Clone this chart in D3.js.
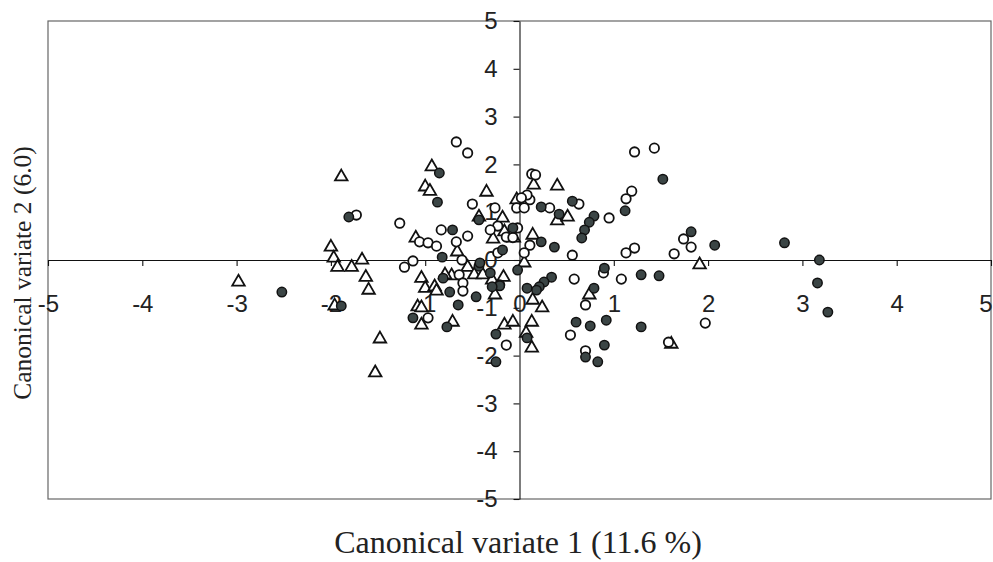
<!DOCTYPE html>
<html>
<head>
<meta charset="utf-8">
<script src="https://cdnjs.cloudflare.com/ajax/libs/d3/7.8.5/d3.min.js"></script>
<style>
  body { margin: 0; background: #fff; }
  svg { display: block; }
</style>
</head>
<body>
<script>
// canonical variate scores, [cv1, cv2]
var triangles = [
  [-1.89,1.74],[-2.00,0.27],[-1.97,0.04],[-1.93,-0.15],[-1.78,-0.15],[-1.67,0.00],[-1.63,-0.36],[-1.60,-0.63],
  [-2.98,-0.46],[-1.96,-0.96],[-1.48,-1.65],[-1.53,-2.36],[-1.10,0.46],[-1.04,-0.38],[-1.00,-0.59],[-1.08,-0.98],
  [-1.04,-1.00],[-1.04,-1.36],[-0.93,1.95],[-1.00,1.53],[-0.95,1.44],[-0.35,1.42],[-0.43,0.90],[-0.66,0.17],
  [-0.18,0.88],[-0.28,0.44],[-0.03,1.26],[-0.55,-0.15],[-0.48,-0.31],[-0.39,-0.31],[-0.16,0.59],[-0.29,-0.42],
  [-0.17,-0.36],[-0.72,-0.33],[-0.79,-0.31],[-0.90,-0.56],[-0.88,-0.65],[-0.26,-0.73],[-0.71,-1.30],[-0.16,-1.36],
  [-0.07,-1.30],[0.15,1.57],[0.40,1.55],[0.14,0.52],[0.40,0.82],[0.51,0.90],[-0.06,0.46],[0.05,-0.06],
  [0.24,-1.00],[0.14,-0.84],[0.13,-1.30],[0.07,-1.53],[0.13,-1.84],[0.74,-0.73],[1.91,-0.10],[1.61,-1.76]
];
var openCircles = [
  [-1.73,0.94],[-1.27,0.77],[-1.06,0.38],[-0.97,0.36],[-1.22,-0.15],[-1.13,-0.02],[-0.97,-1.21],[-0.67,2.47],
  [-0.55,2.24],[-0.50,1.17],[-0.26,1.09],[-0.88,0.29],[-0.83,0.63],[-0.67,0.38],[-0.55,0.50],[-0.23,0.71],
  [-0.31,0.63],[-0.14,0.48],[-0.07,0.47],[-0.23,0.15],[-0.03,1.09],[-0.61,0.00],[-0.64,-0.31],[-0.60,-0.48],
  [-0.60,-0.65],[-0.21,-0.52],[-0.14,-1.78],[0.13,1.80],[0.17,1.78],[1.22,2.26],[1.43,2.34],[1.19,1.44],
  [1.13,1.28],[0.95,0.88],[0.63,1.17],[0.32,1.09],[0.11,1.26],[0.05,1.09],[0.08,1.36],[0.02,1.30],
  [0.11,0.31],[0.56,0.10],[1.22,0.25],[1.13,0.15],[0.05,0.15],[-0.02,0.67],[0.89,-0.27],[0.58,-0.40],
  [1.08,-0.40],[0.70,-0.94],[0.54,-1.57],[0.70,-1.90],[1.64,0.13],[1.74,0.44],[1.82,0.27],[1.97,-1.32],[1.58,-1.72]
];
var filledCircles = [
  [-1.81,0.90],[-2.52,-0.67],[-1.89,-0.96],[-0.85,1.82],[-0.87,1.21],[-0.43,0.84],[-0.71,0.63],[-0.82,0.06],
  [-0.07,0.67],[-0.18,0.21],[-0.43,-0.13],[-0.31,-0.27],[-0.21,-0.54],[-0.29,-0.56],[-0.81,-0.38],[-0.74,-0.67],
  [-0.65,-0.94],[-0.46,-0.77],[-1.13,-1.21],[-0.77,-1.40],[-0.25,-1.55],[-0.25,-2.13],[-0.42,-0.06],[0.56,1.23],
  [0.79,0.92],[0.74,0.79],[0.69,0.63],[0.66,0.46],[1.12,1.03],[0.42,0.96],[0.23,1.11],[0.23,0.38],
  [0.37,0.27],[0.34,-0.36],[0.26,-0.46],[0.21,-0.56],[0.18,-0.63],[0.08,-0.59],[-0.02,-0.21],[0.90,-0.17],
  [1.29,-0.31],[0.79,-0.59],[0.60,-1.30],[0.75,-1.38],[0.92,-1.26],[1.29,-1.40],[0.08,-1.63],[0.90,-1.78],
  [0.70,-2.03],[0.83,-2.13],[1.48,-0.33],[1.52,1.69],[1.82,0.59],[2.07,0.31],[2.81,0.36],[3.18,0.00],
  [3.16,-0.48],[3.27,-1.09]
];
var tickValues = [-5, -4, -3, -2, -1, 0, 1, 2, 3, 4, 5];
var xTitle = "Canonical variate 1 (11.6 %)";
var yTitle = "Canonical variate 2 (6.0)";

var W = 993, H = 562;
var plot = {left: 48, right: 991, top: 21, bottom: 499};

var svg = d3.select("body").append("svg")
    .attr("width", W)
    .attr("height", H);

var x = d3.scaleLinear().domain([-5, 5]).range([plot.left, plot.right]);
var y = d3.scaleLinear().domain([-5, 5]).range([plot.bottom, plot.top]);

// plain hyphen for negatives, like the original
var fmt = function (d) { return String(d); };

// outer frame
svg.append("rect")
    .attr("x", plot.left)
    .attr("y", plot.top)
    .attr("width", plot.right - plot.left)
    .attr("height", plot.bottom - plot.top)
    .style("fill", "none")
    .style("stroke", "#666")
    .style("stroke-width", 1.2);

// axes crossing at the origin
var gX = svg.append("g")
    .attr("transform", "translate(0," + y(0) + ")")
    .call(d3.axisBottom(x).tickValues(tickValues).tickSizeInner(6).tickSizeOuter(0).tickPadding(29).tickFormat(fmt));

var gY = svg.append("g")
    .attr("transform", "translate(" + x(0) + ",0)")
    .call(d3.axisLeft(y).tickValues(tickValues).tickSizeInner(6).tickSizeOuter(0).tickPadding(16).tickFormat(fmt));

svg.selectAll(".domain, .tick line").style("stroke", "#111").style("stroke-width", 1.1);
svg.selectAll(".tick text")
    .style("font-family", "'Liberation Sans', Arial, sans-serif")
    .style("font-size", "24px")
    .style("fill", "#222");

// last x label sits at the right edge; keep it inside the page
gX.selectAll(".tick text")
    .filter(function (d) { return d === 5; })
    .attr("text-anchor", "end")
    .attr("x", 1);

// axis titles
svg.append("text")
    .attr("x", 518)
    .attr("y", 553)
    .attr("text-anchor", "middle")
    .style("font-family", "'Liberation Serif', 'Times New Roman', serif")
    .style("font-size", "32px")
    .style("fill", "#222")
    .text(xTitle);

svg.append("text")
    .attr("transform", "translate(31,273) rotate(-90)")
    .attr("text-anchor", "middle")
    .style("font-family", "'Liberation Serif', 'Times New Roman', serif")
    .style("font-size", "25.5px")
    .style("fill", "#222")
    .text(yTitle);

// markers
var tri = d3.symbol().type(d3.symbolTriangle).size(68);

svg.append("g").selectAll("path")
    .data(triangles)
    .enter().append("path")
    .attr("d", tri)
    .attr("transform", function (d) { return "translate(" + x(d[0]) + "," + y(d[1]) + ")"; })
    .style("fill", "#fff")
    .style("stroke", "#111")
    .style("stroke-width", 1.8);

svg.append("g").selectAll("circle")
    .data(openCircles)
    .enter().append("circle")
    .attr("cx", function (d) { return x(d[0]); })
    .attr("cy", function (d) { return y(d[1]); })
    .attr("r", 4.7)
    .style("fill", "#fff")
    .style("stroke", "#111")
    .style("stroke-width", 1.8);

svg.append("g").selectAll("circle")
    .data(filledCircles)
    .enter().append("circle")
    .attr("cx", function (d) { return x(d[0]); })
    .attr("cy", function (d) { return y(d[1]); })
    .attr("r", 4.7)
    .style("fill", "#3b4545")
    .style("stroke", "#111")
    .style("stroke-width", 1.5);
</script>
</body>
</html>
